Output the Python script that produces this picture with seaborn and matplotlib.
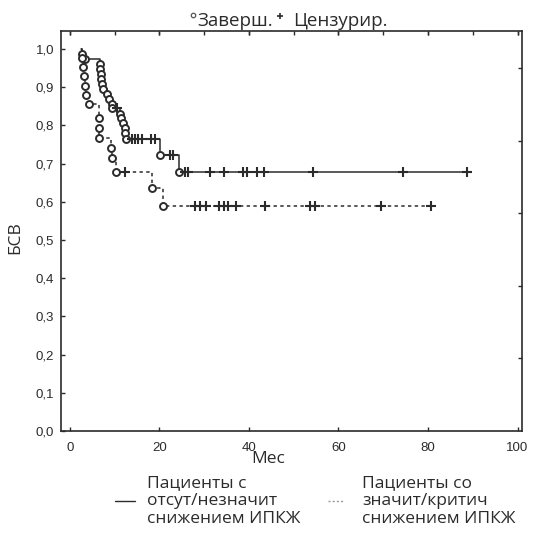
import numpy as np
import pandas as pd
import matplotlib
matplotlib.use("Agg")
import matplotlib.pyplot as plt
import seaborn as sns

# ---- data ----
# group 1: no / insignificant decrease (solid)
solid_event_t = [2.5, 2.7, 3.3, 6.7, 6.8, 6.9, 7.0, 7.1, 7.4, 8.2, 8.7, 9.3, 9.5,
                 11.2, 11.5, 11.9, 12.3, 12.35, 12.5, 20.2, 24.3]
solid_event_s = [1.0, 0.987, 0.974, 0.961, 0.948, 0.935, 0.922, 0.909, 0.896, 0.883,
                 0.870, 0.857, 0.846, 0.831, 0.818, 0.805, 0.792, 0.779, 0.765, 0.722, 0.679]
solid_cens_t = [10.5, 13.8, 14.5, 15.3, 16.0, 18.2, 19.0, 22.3, 23.0, 25.8, 26.4, 31.4,
                34.4, 38.7, 39.5, 41.7, 43.4, 54.4, 74.5, 88.6]

# group 2: significant / critical decrease (dotted)
dot_event_t = [2.4, 2.6, 2.9, 3.2, 3.4, 3.6, 4.3, 6.4, 6.5, 6.6, 9.2, 9.3, 10.4, 18.4, 20.7]
dot_event_s = [1.0, 0.976, 0.952, 0.928, 0.904, 0.880, 0.856, 0.820, 0.794, 0.768,
               0.740, 0.714, 0.679, 0.635, 0.590]
dot_cens_t = [12.3, 27.9, 29.0, 30.5, 33.2, 34.4, 35.4, 37.0, 43.5, 53.6, 54.7, 69.4, 80.7]

legend_labels = ["Пациенты с\nотсут/незначит\nснижением ИПКЖ",
                 "Пациенты со\nзначит/критич\nснижением ИПКЖ"]
x_ticks = [0, 20, 40, 60, 80, 100]
y_ticks = [0.0, 0.1, 0.2, 0.3, 0.4, 0.5, 0.6, 0.7, 0.8, 0.9, 1.0]
x_label = "Мес"
y_label = "БСВ"
title_parts = ["Заверш.", "Цензурир."]

# ---- styling ----
sns.set_theme(style="white")
plt.rcParams['font.family'] = ['Open Sans', 'DejaVu Sans']
INK = "#2b2b2b"

fig = plt.figure(figsize=(5.33, 5.38), dpi=100)
W, H = 533, 538
ax = fig.add_axes([61 / W, 1 - 431 / H, (522 - 61) / W, (431 - 31) / H])


def step_value(ev_t, ev_s, t):
    idx = np.searchsorted(np.asarray(ev_t), t, side="right") - 1
    return np.asarray(ev_s)[idx]


curves = [
    (solid_event_t, solid_event_s, solid_cens_t, "-"),
    (dot_event_t, dot_event_s, dot_cens_t, (0, (2.2, 2.2))),
]
for ev_t, ev_s, cens_t, ls in curves:
    end_t = max(cens_t)
    line_df = pd.DataFrame({"t": ev_t + [end_t], "s": ev_s + [ev_s[-1]]})
    sns.lineplot(data=line_df, x="t", y="s", drawstyle="steps-post", color=INK,
                 linewidth=1.1, linestyle=ls, ax=ax, estimator=None, sort=False)
    ev_df = pd.DataFrame({"t": ev_t[1:], "s": ev_s[1:]})
    ax.plot(ev_df["t"], ev_df["s"], linestyle="none", marker="o", ms=5.0,
            mfc="white", mec=INK, mew=1.4, zorder=4)
    cens_s = [step_value(ev_t, ev_s, t) for t in cens_t]
    ax.plot(cens_t, cens_s, linestyle="none", marker="+", ms=6.5, mec=INK,
            mew=1.5, zorder=4)

ax.set_xlim(-2, 101)
ax.set_ylim(0, 1.047)
ax.set_xticks(x_ticks)
ax.set_yticks(y_ticks)
ax.set_xticklabels([str(v) for v in x_ticks], family=['Liberation Sans', 'DejaVu Sans'],
                   fontsize=9.5, color=INK)
ax.set_yticklabels([f"{v:.1f}".replace(".", ",") for v in y_ticks],
                   family=['Liberation Sans', 'DejaVu Sans'], fontsize=9.5, color=INK)
ax.tick_params(axis="x", direction="in", length=3, width=1, color=INK, pad=8,
               top=True, bottom=True)
ax.tick_params(axis="y", direction="in", length=3, width=1, color=INK, pad=5,
               left=True, right=False)
ax.set_xlabel("")
ax.set_ylabel("")
# top ticks every 10 months
sec = ax.secondary_xaxis("top")
sec.set_xticks(np.arange(0, 101, 10))
sec.set_xticklabels([])
sec.tick_params(direction="in", length=3, width=1, color=INK)
sec.spines["top"].set_visible(False)
# right-side ticks
secy = ax.secondary_yaxis("right")
secy.set_yticks([0.19, 0.38, 0.57, 0.76, 0.95])
secy.set_yticklabels([])
secy.tick_params(direction="in", length=3, width=1, color=INK)
secy.spines["right"].set_visible(False)
for s in ax.spines.values():
    s.set_color(INK)
    s.set_linewidth(1.2)

# axis labels
fig.text(268 / W, 1 - 459 / H, x_label, ha="center", va="center", fontsize=12.5, color=INK)
fig.text(15 / W, 1 - 238 / H, y_label, ha="center", va="center", rotation=90,
         fontsize=12.5, color=INK)

# title legend
ty = 1 - 21 / H
fig.lines.append(plt.Line2D([193 / W], [1 - 15 / H], marker="o", ms=3.2, mfc="white",
                            mec="#555555", mew=0.9, transform=fig.transFigure))
fig.text(197 / W, ty, title_parts[0], ha="left", va="center", fontsize=13.5, color=INK)
fig.lines.append(plt.Line2D([280 / W], [1 - 16 / H], marker="+", ms=4.5, mec=INK,
                            mew=1.2, transform=fig.transFigure))
fig.text(293 / W, ty, title_parts[1], ha="left", va="center", fontsize=13.5, color=INK)

# bottom legend
ly = 1 - 501 / H
fig.lines.append(plt.Line2D([115 / W, 135 / W], [ly, ly], color=INK,
                            linewidth=1.0, transform=fig.transFigure))
fig.text(147 / W, ly, legend_labels[0], ha="left", va="center", fontsize=12.5,
         color=INK, linespacing=1.15)
fig.lines.append(plt.Line2D([328 / W, 344 / W], [ly, ly], color="#999999",
                            linewidth=1.0, linestyle=(0, (1.5, 1.5)),
                            transform=fig.transFigure))
fig.text(362 / W, ly, legend_labels[1], ha="left", va="center", fontsize=12.5,
         color=INK, linespacing=1.15)

fig.savefig("out.png", dpi=100, facecolor="white")
